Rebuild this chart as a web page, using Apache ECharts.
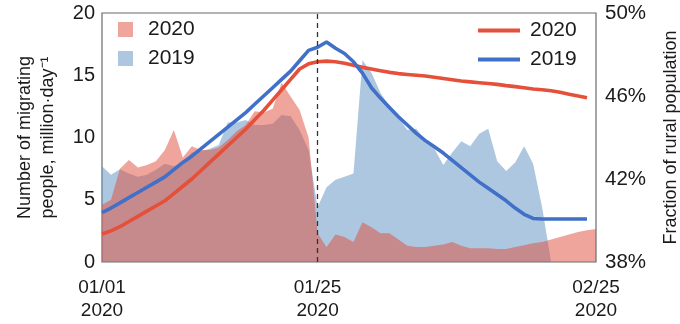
<!DOCTYPE html>
<html>
<head>
<meta charset="utf-8">
<script src="https://cdn.jsdelivr.net/npm/echarts@6/dist/echarts.min.js"></script>
<style>
html,body{margin:0;padding:0;background:#fff;}
#chart{width:680px;height:324px;}
</style>
</head>
<body>
<div id="chart"></div>
<script>
var categories = [
 "01/01","01/02","01/03","01/04","01/05","01/06","01/07","01/08","01/09","01/10",
 "01/11","01/12","01/13","01/14","01/15","01/16","01/17","01/18","01/19","01/20",
 "01/21","01/22","01/23","01/24","01/25","01/26","01/27","01/28","01/29","01/30",
 "01/31","02/01","02/02","02/03","02/04","02/05","02/06","02/07","02/08","02/09",
 "02/10","02/11","02/12","02/13","02/14","02/15","02/16","02/17","02/18","02/19",
 "02/20","02/21","02/22","02/23","02/24","02/25"];
var labelledDates = ["01/01","01/25","02/25"];
var labelYear = "2020";
var markerDate = "01/25";

// Number of migrating people, million/day
var migr2020 = [4.6, 5.0, 7.5, 8.2, 7.6, 7.8, 8.1, 9.0, 10.6, 8.4,
 9.3, 9.0, 9.0, 9.2, 9.8, 10.5, 11.0, 12.1, 12.0, 12.3,
 14.4, 13.3, 12.2, 10.0, 2.3, 1.2, 2.2, 2.0, 1.6, 3.2,
 2.8, 2.3, 2.3, 1.8, 1.3, 1.2, 1.2, 1.3, 1.4, 1.6,
 1.3, 1.1, 1.1, 1.1, 1.05, 1.05, 1.2, 1.35, 1.5, 1.6,
 1.8, 2.0, 2.2, 2.4, 2.55, 2.65];
var migr2019 = [7.7, 7.0, 7.45, 7.1, 6.85, 7.0, 7.4, 7.9, 7.7, 8.0,
 8.8, 8.9, 9.1, 9.4, 11.2, 11.2, 11.4, 11.0, 11.0, 11.1,
 11.8, 11.7, 10.6, 9.0, 4.4, 6.0, 6.6, 6.85, 7.1, 16.2,
 15.2, 13.6, 12.5, 11.6, 10.6, 10.7, 9.8, 9.1, 7.8, 8.8,
 9.7, 9.3, 10.3, 10.7, 8.1, 7.3, 8.0, 9.3, 7.9, 4.4,
 0, 0, 0, 0, 0, 0];

// Fraction of rural population, %
var rural2020 = [39.35, 39.5, 39.7, 39.95, 40.2, 40.45, 40.7, 40.95, 41.3, 41.65,
 42.0, 42.4, 42.8, 43.2, 43.6, 44.0, 44.4, 44.85, 45.3, 45.8,
 46.3, 46.8, 47.3, 47.55, 47.65, 47.68, 47.65, 47.58, 47.48, 47.38,
 47.3, 47.22, 47.14, 47.08, 47.04, 47.0, 46.96, 46.9, 46.84, 46.78,
 46.72, 46.68, 46.64, 46.6, 46.56, 46.5, 46.45, 46.4, 46.34, 46.3,
 46.25, 46.18, 46.08, 46.0, 45.92, null];
var rural2019 = [40.38, 40.6, 40.85, 41.1, 41.35, 41.6, 41.85, 42.1, 42.45, 42.8,
 43.1, 43.45, 43.8, 44.15, 44.5, 44.85, 45.2, 45.6, 46.0, 46.4,
 46.8, 47.2, 47.7, 48.2, 48.35, 48.6, 48.3, 48.05, 47.65, 47.1,
 46.4, 45.9, 45.45, 45.0, 44.6, 44.2, 43.85, 43.55, 43.25, 42.9,
 42.55, 42.2, 41.85, 41.55, 41.25, 40.95, 40.6, 40.3, 40.1, 40.07,
 40.07, 40.07, 40.07, 40.07, 40.07, null];

var leftTicks = [0, 5, 10, 15, 20];
var rightTicks = [38, 42, 46, 50];

var FONT = "Liberation Sans";
var RED_FILL = "rgba(223,75,57,0.5)";
var BLUE_FILL = "rgba(93,143,193,0.5)";
var RED_LINE = "#e5503a";
var BLUE_LINE = "#4170c8";

var chart = echarts.init(document.getElementById('chart'), null, {renderer: 'canvas'});
chart.setOption({
  animation: false,
  textStyle: {fontFamily: FONT},
  grid: {left: 102, right: 84, top: 13, bottom: 62, show: true, borderColor: '#6b6b6b', borderWidth: 1.2,
         backgroundColor: 'transparent', containLabel: false, outerBoundsMode: 'none'},
  legend: [{
    orient: 'vertical', left: 113, top: 14,
    itemWidth: 15, itemHeight: 15, itemGap: 8,
    icon: 'rect',
    textStyle: {fontSize: 21, color: '#1a1a1a', fontFamily: FONT, lineHeight: 20, padding: [0, 0, 0, 10]},
    formatter: function (n) { return n.trim(); },
    data: [{name: '2020 ', itemStyle: {color: RED_FILL}}, {name: '2019 ', itemStyle: {color: BLUE_FILL}}]
  }, {
    orient: 'vertical', left: 473, top: 15,
    itemWidth: 42, itemHeight: 4, itemGap: 8,
    icon: 'rect',
    textStyle: {fontSize: 21, color: '#1a1a1a', fontFamily: FONT, lineHeight: 20, padding: [0, 0, 0, 5]},
    formatter: function (n) { return n.trim(); },
    data: [{name: '2020', itemStyle: {color: RED_LINE}}, {name: '2019', itemStyle: {color: BLUE_LINE}}]
  }],
  xAxis: {
    type: 'category', data: categories, boundaryGap: false,
    axisLine: {show: false}, axisTick: {show: false}, splitLine: {show: false},
    axisLabel: {
      interval: function (i, v) { return labelledDates.indexOf(v) >= 0; },
      formatter: function (v) { return v + '\n' + labelYear; },
      fontSize: 19, lineHeight: 23.5, color: '#1a1a1a', margin: 14, fontFamily: FONT,
      showMinLabel: true, showMaxLabel: true
    }
  },
  yAxis: [{
    type: 'value', min: leftTicks[0], max: leftTicks[leftTicks.length - 1], interval: 5,
    axisLine: {show: false}, axisTick: {show: false}, splitLine: {show: false},
    axisLabel: {fontSize: 20, color: '#1a1a1a', margin: 7, fontFamily: FONT},
    name: 'Number of migrating\npeople, million·day⁻¹', nameLocation: 'middle', nameGap: 42, nameRotate: 90,
    nameTextStyle: {fontSize: 18, color: '#1a1a1a', lineHeight: 23, fontFamily: FONT}
  }, {
    type: 'value', min: rightTicks[0], max: rightTicks[rightTicks.length - 1], interval: 4,
    axisLine: {show: false}, axisTick: {show: false}, splitLine: {show: false},
    axisLabel: {fontSize: 20.5, color: '#1a1a1a', margin: 9, fontFamily: FONT, formatter: '{value}%'},
    name: 'Fraction of rural population', nameLocation: 'middle', nameGap: 66, nameRotate: 90,
    nameTextStyle: {fontSize: 18, color: '#1a1a1a', fontFamily: FONT}
  }],
  series: [{
    name: '2019 ', type: 'line', yAxisIndex: 0, data: migr2019, symbol: 'none',
    lineStyle: {width: 0}, itemStyle: {color: BLUE_FILL}, areaStyle: {color: BLUE_FILL, opacity: 1}, z: 1
  }, {
    name: '2020 ', type: 'line', yAxisIndex: 0, data: migr2020, symbol: 'none',
    lineStyle: {width: 0}, itemStyle: {color: RED_FILL}, areaStyle: {color: RED_FILL, opacity: 1}, z: 2,
    markLine: {
      silent: true, symbol: 'none', label: {show: false},
      lineStyle: {color: '#333', type: [5, 4], width: 1.3},
      data: [{xAxis: markerDate}]
    }
  }, {
    name: '2020', type: 'line', yAxisIndex: 1, data: rural2020, symbol: 'none',
    lineStyle: {width: 3.6, color: RED_LINE}, itemStyle: {color: RED_LINE}, z: 3
  }, {
    name: '2019', type: 'line', yAxisIndex: 1, data: rural2019, symbol: 'none',
    lineStyle: {width: 3.6, color: BLUE_LINE}, itemStyle: {color: BLUE_LINE}, z: 4
  }]
});
</script>
</body>
</html>
